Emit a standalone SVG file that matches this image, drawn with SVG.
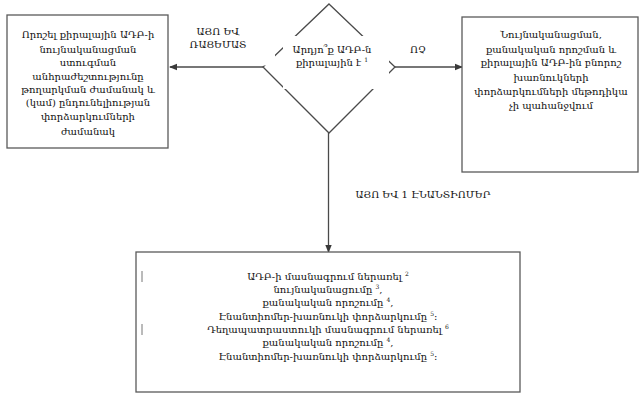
<svg xmlns="http://www.w3.org/2000/svg" width="642" height="399" viewBox="0 0 642 399">
<style>
.box{fill:#fff;stroke:#5a5a5a;stroke-width:1.3}
.ln{fill:none;stroke:#4a4a4a;stroke-width:1.3}
.occ{fill:#fff;stroke:none}
text{font-family:"DejaVu Serif","Liberation Serif",serif;font-size:10px;fill:#111;text-anchor:middle}
.sup{font-size:6px}
.tick{stroke:#777;stroke-width:1}
</style>
<defs>
<marker id="ah" markerWidth="8" markerHeight="8" refX="7" refY="4" orient="auto" markerUnits="userSpaceOnUse">
<path d="M0,0.8 L8,4 L0,7.2 Z" fill="#3a3a3a"/>
</marker>
</defs>
<rect width="642" height="399" fill="#fff"/>
<g id="connectors">
<line class="ln" x1="263" y1="67" x2="170" y2="67" marker-end="url(#ah)"/>
<line class="ln" x1="395" y1="67" x2="462" y2="67" marker-end="url(#ah)"/>
<line class="ln" x1="328.5" y1="133" x2="328.5" y2="252" marker-end="url(#ah)"/>
</g>
<g id="left-box">
<rect class="box" x="7" y="15" width="161" height="133"/>
<text x="88" y="38">Որոշել քիրալային ԱԴԲ-ի</text>
<text x="88" y="53">նույնականացման</text>
<text x="88" y="66">ստուգման</text>
<text x="88" y="80">անհրաժեշտությունը</text>
<text x="88" y="93">թողարկման ժամանակ և</text>
<text x="88" y="106">(կամ) ընդունելիության</text>
<text x="88" y="120">փորձարկումների</text>
<text x="88" y="135">ժամանակ</text>
</g>
<g id="decision">
<polygon class="ln" points="329,4 395,67 329,133 263,67"/>
<rect class="occ" x="283" y="36" width="106" height="53"/>
<rect class="occ" x="262.5" y="54" width="12.5" height="11.5"/>
<text x="332" y="53">Արդյո՞ք ԱԴԲ-ն</text>
<text x="332" y="66">քիրալային է <tspan class="sup" dy="-4">1</tspan></text>
</g>
<g id="label-yes-racemate">
<text x="218" y="35">ԱՅՈ ԵՎ</text>
<text x="218" y="48">ՌԱՑԵՄԱՏ</text>
</g>
<g id="label-no">
<text x="418" y="53">ՈՉ</text>
</g>
<g id="label-yes-enantiomer">
<text x="423" y="198">ԱՅՈ ԵՎ 1 ԷՆԱՆՏԻՈՄԵՐ</text>
</g>
<g id="right-box">
<rect class="box" x="462" y="17" width="176" height="155"/>
<text x="551" y="38">Նույնականացման,</text>
<text x="551" y="53">քանակական որոշման և</text>
<text x="551" y="66">քիրալային ԱԴԲ-ին բնորոշ</text>
<text x="551" y="81">խառնուկների</text>
<text x="551" y="95">փորձարկումների մեթոդիկա</text>
<text x="551" y="109">չի պահանջվում</text>
</g>
<g id="bottom-box">
<rect class="box" x="136" y="252" width="384" height="140"/>
<line class="tick" x1="142" y1="271" x2="142" y2="282"/>
<line class="tick" x1="142" y1="324" x2="142" y2="335"/>
<text x="328" y="280">ԱԴԲ-ի մասնագրում ներառել <tspan class="sup" dy="-4">2</tspan></text>
<text x="328" y="293">նույնականացումը <tspan class="sup" dy="-4">3</tspan><tspan dy="4">,</tspan></text>
<text x="328" y="306">քանակական որոշումը <tspan class="sup" dy="-4">4</tspan><tspan dy="4">,</tspan></text>
<text x="328" y="320">Էնանտիոմեր-խառնուկի փորձարկումը <tspan class="sup" dy="-4">5</tspan><tspan dy="4">։</tspan></text>
<text x="328" y="333">Դեղապատրաստուկի մասնագրում ներառել <tspan class="sup" dy="-4">6</tspan></text>
<text x="328" y="346">քանակական որոշումը <tspan class="sup" dy="-4">4</tspan><tspan dy="4">,</tspan></text>
<text x="328" y="360">Էնանտիոմեր-խառնուկի փորձարկումը <tspan class="sup" dy="-4">5</tspan><tspan dy="4">։</tspan></text>
</g>
</svg>
